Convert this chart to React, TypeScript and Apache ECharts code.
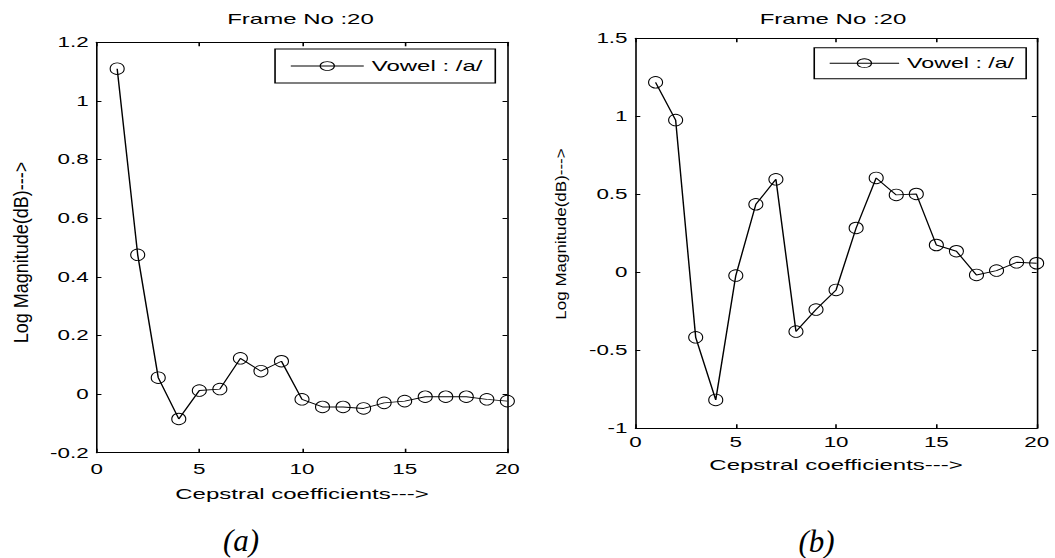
import React, { useEffect, useRef } from "react";
import * as echarts from "echarts";

// ---- data ----
const coefficients = [1, 2, 3, 4, 5, 6, 7, 8, 9, 10, 11, 12, 13, 14, 15, 16, 17, 18, 19, 20];
const frameA = [1.11, 0.475, 0.056, -0.085, 0.012, 0.017, 0.122, 0.078, 0.112, -0.018, -0.044, -0.044, -0.049, -0.03, -0.024, -0.009, -0.009, -0.009, -0.018, -0.024];
const frameB = [1.218, 0.976, -0.417, -0.818, -0.021, 0.436, 0.596, -0.38, -0.239, -0.113, 0.284, 0.605, 0.496, 0.502, 0.175, 0.135, -0.017, 0.011, 0.064, 0.058];
const xRange = [0, 20];
const xStep = 5;
const yRangeA = [-0.2, 1.2];
const yStepA = 0.2;
const yRangeB = [-1, 1.5];
const yStepB = 0.5;
const seriesName = "Vowel : /a/";
const titleText = "Frame No :20";
const xName = "Cepstral coefficients--->";
const yName = "Log Magnitude(dB)--->";
const captions = ["(a)", "(b)"];

const S = 1.6; // horizontal stretch of the original figure
const W = 1055 / S;
const FONT = "Liberation Sans, Arial, Helvetica, sans-serif";

function fmt(v: number) {
  return String(Math.round(v * 100) / 100);
}

function xAxes(gridIndex: number, margin: number, nameGap: number) {
  const common = {
    gridIndex,
    type: "value",
    min: xRange[0],
    max: xRange[1],
    interval: xStep,
    splitLine: { show: false },
    axisLine: { onZero: false, lineStyle: { color: "#000", width: 1 } },
    axisTick: { inside: true, length: 4, lineStyle: { color: "#000", width: 1 } },
  };
  return [
    {
      ...common,
      position: "bottom",
      axisLabel: { margin, fontSize: 14, color: "#000", fontFamily: FONT, showMinLabel: true, showMaxLabel: true, formatter: fmt },
      name: xName,
      nameLocation: "middle",
      nameGap,
      nameTextStyle: { fontSize: 15, color: "#000", fontFamily: FONT },
    },
    { ...common, position: "top", axisLabel: { show: false } },
  ];
}

function yAxes(gridIndex: number, range: number[], step: number) {
  const common = {
    gridIndex,
    type: "value",
    min: range[0],
    max: range[1],
    interval: step,
    splitLine: { show: false },
    axisLine: { onZero: false, lineStyle: { color: "#000", width: 1 } },
    axisTick: { inside: true, length: 3, lineStyle: { color: "#000", width: 1 } },
  };
  return [
    {
      ...common,
      position: "left",
      axisLabel: { margin: 5, fontSize: 14, color: "#000", fontFamily: FONT, showMinLabel: true, showMaxLabel: true, formatter: fmt },
    },
    { ...common, position: "right", axisLabel: { show: false } },
  ];
}

function lineSeries(values: number[], axisIndex: number) {
  return {
    type: "line",
    name: seriesName,
    xAxisIndex: axisIndex,
    yAxisIndex: axisIndex,
    data: coefficients.map((c, i) => [c, values[i]]),
    symbol: "circle",
    symbolSize: [8.75, 11.5],
    showAllSymbol: true,
    clip: false,
    lineStyle: { color: "#000", width: 0.9 },
    itemStyle: { color: "rgba(0,0,0,0)", borderColor: "#000", borderWidth: 0.8 },
    emphasis: { disabled: true },
    silent: true,
  };
}

function legend(left: number, top: number, itemWidth: number, fontSize: number, lineHeight: number, padding: number[]) {
  return {
    data: [seriesName],
    left,
    top,
    orient: "horizontal",
    itemWidth,
    itemHeight: 11,
    itemGap: 0,
    padding,
    borderColor: "#000",
    borderWidth: 1,
    borderRadius: 0,
    backgroundColor: "#fff",
    selectedMode: false,
    textStyle: { fontSize, lineHeight, color: "#000", fontFamily: FONT },
    itemStyle: { color: "rgba(0,0,0,0)", borderColor: "#000", borderWidth: 0.8 },
    lineStyle: { color: "#000", width: 0.9 },
  };
}

function textEl(text: string, x: number, y: number, extra: any, style: any) {
  return {
    type: "text",
    x,
    y,
    silent: true,
    ...extra,
    style: {
      text,
      fill: "#000",
      fontFamily: FONT,
      align: "center",
      verticalAlign: "middle",
      textAlign: "center",
      textVerticalAlign: "middle",
      ...style,
    },
  };
}

export default function App() {
  const ref = useRef<HTMLDivElement>(null);

  useEffect(() => {
    if (!ref.current) return;
    const chart = echarts.init(ref.current, null, { renderer: "svg", width: W, height: 558 });
    chart.setOption({
      animation: false,
      backgroundColor: "#fff",
      grid: [
        { left: 60.4, top: 42.3, width: 256.7, height: 410.4 },
        { left: 397.2, top: 38.3, width: 250.7, height: 390 },
      ],
      xAxis: [...xAxes(0, 9, 34), ...xAxes(1, 6.5, 28.5)],
      yAxis: [...yAxes(0, yRangeA, yStepA), ...yAxes(1, yRangeB, yStepB)],
      legend: [
        legend(171.9, 49, 45.6, 15, 16, [9, 8, 9, 9.4]),
        legend(508.9, 47.7, 43.4, 14.5, 14, [8, 7.5, 8, 9.2]),
      ],
      series: [lineSeries(frameA, 0), lineSeries(frameB, 2)],
      graphic: [
        textEl(titleText, 187.8, 19, {}, { fontSize: 15 }),
        textEl(titleText, 520.6, 19, {}, { fontSize: 15 }),
        textEl(yName, 13.4, 252.5, { rotation: Math.PI / 2, scaleY: 0.67 }, { fontSize: 18 }),
        textEl(yName, 350.3, 234, { rotation: Math.PI / 2, scaleY: 0.55 }, { fontSize: 17 }),
        textEl(captions[0], 150.6, 540, { scaleX: 1 / S }, { fontSize: 31, fontStyle: "italic", fontFamily: "Liberation Serif, Times New Roman, serif" }),
        textEl(captions[1], 510.3, 541, { scaleX: 1 / S }, { fontSize: 31, fontStyle: "italic", fontFamily: "Liberation Serif, Times New Roman, serif" }),
      ],
    });
    return () => chart.dispose();
  }, []);

  return (
    <div style={{ position: "absolute", left: 0, top: 0, width: 1055, height: 558, overflow: "hidden", background: "#fff" }}>
      <div
        ref={ref}
        style={{ width: W, height: 558, transform: `scaleX(${S})`, transformOrigin: "0 0" }}
      />
    </div>
  );
}
